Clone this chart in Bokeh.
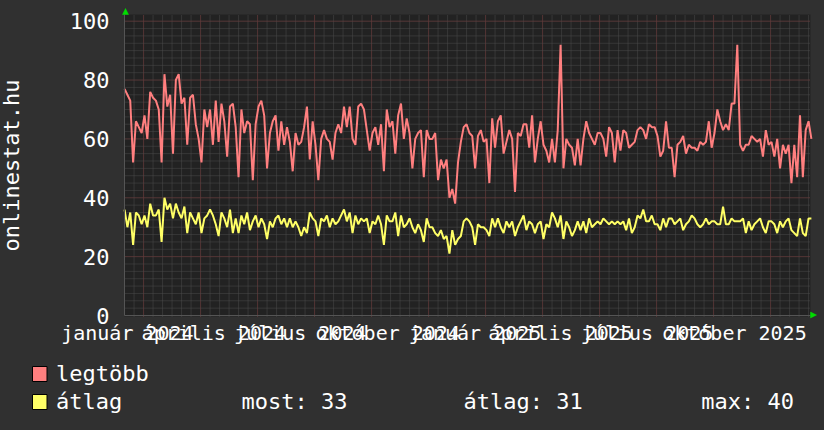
import math
import pandas as pd
from bokeh.plotting import figure
from bokeh.models import Range1d, FixedTicker, Arrow, NormalHead, BoxAnnotation
from bokeh.embed import file_html
from bokeh.resources import INLINE
from bokeh.core.properties import value
from bokeh.core.templates import get_env

# ---------------- data ----------------
START = "2023-12-29"      # first sample
STEP = "3D"               # one sample every three days
ORIGIN = "2024-01-01"

legtobb = [
    77, 75, 73, 52, 66, 64, 62, 68, 60, 76,
    74, 73, 70, 52, 82, 71, 75, 55, 80, 82,
    72, 74, 58, 74, 75, 65, 60, 52, 70, 64,
    70, 58, 73, 59, 72, 66, 54, 71, 72, 64,
    47, 70, 62, 66, 65, 46, 65, 71, 73, 68,
    50, 62, 66, 68, 56, 66, 58, 64, 59, 49,
    62, 58, 59, 64, 71, 53, 66, 58, 46, 60,
    63, 60, 59, 53, 62, 65, 62, 71, 64, 71,
    60, 58, 71, 72, 70, 63, 56, 62, 64, 58,
    65, 49, 70, 64, 66, 55, 68, 72, 60, 67,
    62, 50, 60, 62, 63, 47, 63, 60, 60, 62,
    46, 53, 50, 53, 40, 43, 38, 52, 59, 64,
    65, 62, 61, 50, 61, 63, 59, 60, 45, 67,
    57, 66, 68, 55, 59, 63, 60, 42, 62, 61,
    65, 65, 57, 68, 52, 60, 66, 58, 56, 52,
    60, 52, 63, 92, 50, 60, 58, 57, 51, 60,
    51, 60, 66, 62, 60, 58, 62, 62, 60, 54,
    64, 62, 52, 63, 56, 63, 62, 57, 58, 59,
    63, 64, 63, 60, 65, 64, 64, 61, 54, 56,
    66, 57, 57, 47, 58, 59, 61, 55, 58, 57,
    57, 56, 59, 58, 59, 66, 57, 62, 70, 66,
    63, 65, 63, 72, 72, 92, 58, 56, 58, 58,
    61, 60, 59, 60, 54, 63, 58, 59, 54, 60,
    50, 58, 55, 58, 45, 58, 47, 68, 47, 63,
    66, 60,
]

atlag = [
    36, 30, 35, 24, 35, 34, 31, 34, 30, 38,
    34, 34, 36, 25, 40, 36, 38, 33, 38, 35,
    33, 37, 28, 35, 33, 31, 35, 28, 33, 34,
    36, 34, 31, 27, 35, 33, 30, 36, 28, 33,
    28, 34, 31, 35, 29, 32, 34, 30, 33, 31,
    26, 32, 30, 33, 34, 31, 33, 30, 33, 30,
    32, 30, 27, 30, 28, 35, 33, 32, 27, 33,
    32, 34, 30, 33, 31, 32, 34, 36, 32, 35,
    28, 34, 31, 33, 32, 33, 28, 32, 31, 34,
    31, 24, 34, 32, 32, 35, 27, 34, 30, 31,
    33, 30, 28, 31, 29, 25, 33, 30, 30, 28,
    27, 29, 26, 27, 21, 29, 24, 26, 27, 32,
    33, 32, 30, 24, 31, 30, 30, 29, 27, 33,
    30, 33, 30, 28, 32, 30, 32, 27, 30, 32,
    34, 29, 32, 31, 28, 31, 32, 26, 31, 30,
    35, 33, 30, 34, 26, 32, 30, 27, 29, 32,
    29, 32, 28, 33, 30, 31, 32, 31, 33, 32,
    31, 32, 31, 32, 31, 32, 29, 33, 28, 30,
    34, 33, 36, 32, 32, 34, 31, 31, 29, 33,
    30, 33, 33, 31, 32, 33, 29, 31, 32, 34,
    33, 31, 30, 31, 33, 31, 32, 32, 31, 31,
    37, 31, 31, 33, 32, 32, 32, 33, 28, 32,
    29, 31, 32, 33, 30, 28, 32, 32, 31, 28,
    32, 30, 32, 33, 29, 28, 27, 33, 28, 27,
    33, 33,
]

series_names = ["legtöbb", "átlag"]
stat_texts = ["most: 33", "átlag: 31", "max: 40"]
y_axis_title = "onlinestat.hu"

tick_dates = ["2024-01-01", "2024-04-01", "2024-07-01", "2024-10-01",
              "2025-01-01", "2025-04-01", "2025-07-01", "2025-10-01"]
tick_labels = ["január 2024", "április 2024", "július 2024", "október 2024",
               "január 2025", "április 2025", "július 2025", "október 2025"]
y_ticks = [0, 20, 40, 60, 80, 100]

# ---------------- styling / layout ----------------
BG = "#303030"
PLOT_BG = "#222222"
RED = "#ff7f7f"
YEL = "#ffff66"
GREEN = "#00dd00"
GRID_MINOR = "#4c4c4c"
GRID_MAJOR = "#6e3232"
FONT = "DejaVu Sans Mono"
FS_AXIS_X = "20px"
FS_AXIS_Y = "22px"
FS_TEXT = "22px"

W, H = 824, 430
# page-pixel calibration of the data scales
PX0, PX_PER_DAY = 126.9, 0.95      # x pixel of 2024-01-01, pixels per day
PY0, PY_PER_UNIT = 315.0, 2.943    # y pixel of value 0, pixels per unit
AL, AR, AT, AB = 124, 810, 14, 316  # plotting area edges (pixels)


def dx(px):
    return (px - PX0) / PX_PER_DAY


def dy(py):
    return (PY0 - py) / PY_PER_UNIT


XA0, XA1, YA0, YA1 = dx(AL), dx(AR), dy(AB), dy(AT)

origin = pd.Timestamp(ORIGIN)
dates = pd.date_range(START, periods=len(legtobb), freq=STEP)
xdays = [(d - origin).days for d in dates]
tick_days = [(pd.Timestamp(d) - origin).days for d in tick_dates]

p = figure(width=W, height=H, x_range=Range1d(dx(0), dx(W)), y_range=Range1d(dy(H), dy(0)),
           toolbar_location=None, output_backend="svg",
           min_border_left=0, min_border_right=0, min_border_top=0, min_border_bottom=0,
           background_fill_color=BG, border_fill_color=BG, outline_line_color=None)
p.grid.visible = False

# plotting-area background
p.add_layout(BoxAnnotation(left=XA0, right=XA1, bottom=YA0, top=YA1, fill_color=PLOT_BG,
                           fill_alpha=1, line_alpha=0, level="underlay"))

# epoch-aligned grid (10-day minor, 60-day major); 2024-01-01 is epoch day 19723
minor_x = [d for d in range(7, 740, 10) if XA0 < d < XA1]
major_x = [d for d in range(17, 740, 60) if XA0 < d < XA1]
minor_y = [i * 2.5 for i in range(1, 41)]
major_y = y_ticks[1:]
for ticks, col in [(minor_x, GRID_MINOR), (major_x, GRID_MAJOR)]:
    p.segment(x0=ticks, x1=ticks, y0=[YA0] * len(ticks), y1=[YA1] * len(ticks),
              line_color=col, line_dash="1 1", line_width=1)
for ticks, col in [(minor_y, GRID_MINOR), (major_y, GRID_MAJOR)]:
    p.segment(x0=[XA0] * len(ticks), x1=[XA1] * len(ticks), y0=ticks, y1=ticks,
              line_color=col, line_dash="1 1", line_width=1)

# data
p.line(xdays, legtobb, line_color=RED, line_width=2)
p.line(xdays, atlag, line_color=YEL, line_width=2)

# axes, fixed at the plotting-area edges
xa, ya = p.xaxis[0], p.yaxis[0]
for ax in (xa, ya):
    ax.major_label_text_font = FONT
    ax.major_label_text_color = "white"
    ax.major_tick_line_color = None
    ax.minor_tick_line_color = None
    ax.major_tick_out = 0
    ax.major_tick_in = 0
    ax.axis_line_color = "#555555"
xa.fixed_location = 0
xa.bounds = (XA0, XA1)
xa.ticker = FixedTicker(ticks=tick_days)
xa.major_label_overrides = {d: lab for d, lab in zip(tick_days, tick_labels)}
xa.major_label_text_font_size = FS_AXIS_X
xa.major_label_standoff = 5

ya.fixed_location = XA0
ya.bounds = (0, YA1)
ya.ticker = FixedTicker(ticks=y_ticks)
ya.major_label_text_font_size = FS_AXIS_Y
ya.major_label_standoff = 15

# vertical unit title
p.text(x=[dx(11)], y=[dy(165)], text=[y_axis_title], angle=math.pi / 2,
       text_font=value(FONT), text_font_size=value(FS_TEXT), text_color="white",
       text_align="center", text_baseline="middle")

# green axis arrows
p.add_layout(Arrow(end=NormalHead(size=6, fill_color=GREEN, line_color=GREEN, line_width=0.5),
                   x_start=dx(125), y_start=dy(20), x_end=dx(125), y_end=dy(8), line_alpha=0))
p.add_layout(Arrow(end=NormalHead(size=6, fill_color=GREEN, line_color=GREEN, line_width=0.5),
                   x_start=dx(800), y_start=dy(314.5), x_end=dx(816), y_end=dy(314.5), line_alpha=0))

# ---------------- legend ----------------
sw_colors = [RED, YEL]
sw_top = [366, 394]
mid_y = [372.5, 400.5]
p.quad(left=[dx(32)] * 2, right=[dx(46.5)] * 2,
       top=[dy(t) for t in sw_top], bottom=[dy(t + 15) for t in sw_top],
       fill_color=sw_colors, line_color="black", line_width=1)
p.text(x=[dx(55.5)] * 2, y=[dy(m) for m in mid_y], text=series_names,
       text_font=value(FONT), text_font_size=value(FS_TEXT), text_color="white",
       text_align="left", text_baseline="middle")
p.text(x=[dx(241), dx(463), dx(700.8)], y=[dy(mid_y[1])] * 3, text=stat_texts,
       text_font=value(FONT), text_font_size=value(FS_TEXT), text_color="white",
       text_align="left", text_baseline="middle")

TEMPLATE = get_env().from_string(
    "{% extends base %}\n"
    "{% block postamble %}<style>html, body { margin: 0 !important; padding: 0 !important; "
    "background: " + BG + "; overflow: hidden; }</style>{% endblock %}"
)

open("out.html", "w").write(file_html(p, INLINE, title="onlinestat.hu", template=TEMPLATE))
